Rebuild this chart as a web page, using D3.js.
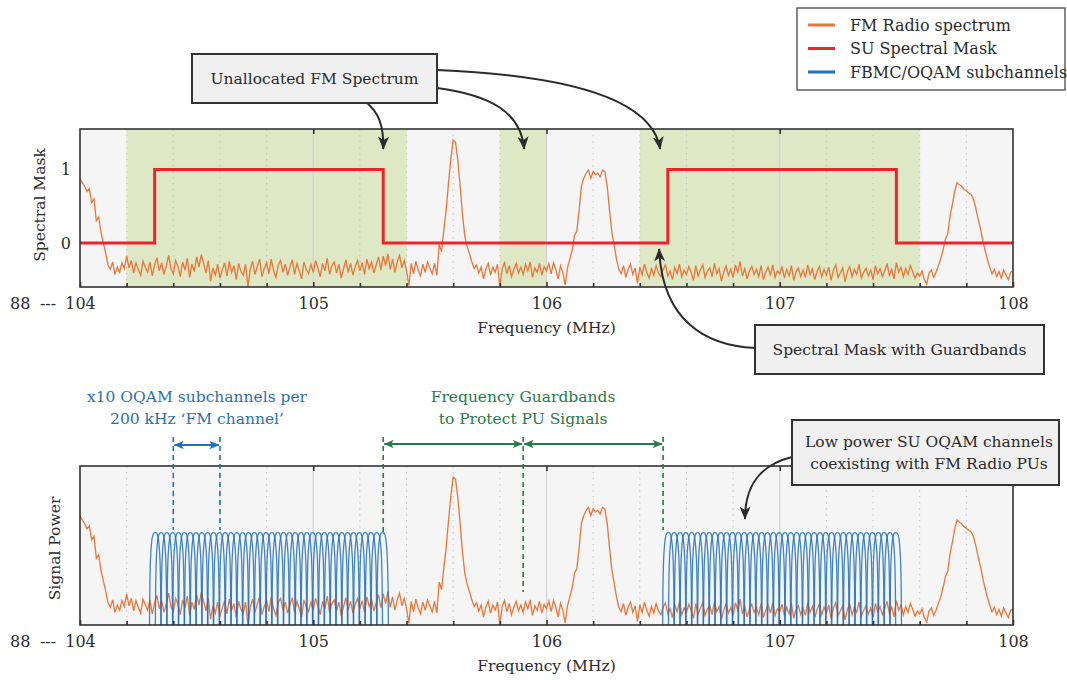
<!DOCTYPE html>
<html>
<head>
<meta charset="utf-8">
<script src="https://cdn.jsdelivr.net/npm/d3@7"></script>
<style>
  body { margin: 0; background: #fff; }
  svg { display: block; font-family: "DejaVu Serif", serif; }
</style>
</head>
<body>
<svg id="chart" width="1067" height="680"></svg>
<script>
// ---- Data -----------------------------------------------------------------
// Measured FM band power (normalised units), one sample every 10 kHz from 104 MHz.
const fmStartMHz = 104;
const fmStepMHz = 0.01;
const fmPower = [
  0.87, 0.82, 0.77, 0.70, 0.74, 0.55, 0.60, 0.30, 0.35, 0.14,
  0.00, -0.14, -0.30, -0.36, -0.26, -0.43, -0.33, -0.40, -0.27, -0.35,
  -0.18, -0.34, -0.24, -0.41, -0.27, -0.36, -0.44, -0.25, -0.33, -0.40,
  -0.26, -0.45, -0.30, -0.20, -0.38, -0.27, -0.43, -0.31, -0.17, -0.35,
  -0.42, -0.24, -0.32, -0.46, -0.26, -0.37, -0.21, -0.47, -0.29, -0.39,
  -0.19, -0.33, -0.16, -0.28, -0.41, -0.24, -0.52, -0.34, -0.44, -0.29,
  -0.48, -0.37, -0.27, -0.45, -0.25, -0.40, -0.31, -0.50, -0.28, -0.39,
  -0.44, -0.29, -0.60, -0.36, -0.25, -0.43, -0.32, -0.22, -0.46, -0.35,
  -0.27, -0.42, -0.22, -0.38, -0.47, -0.30, -0.24, -0.40, -0.29, -0.44,
  -0.33, -0.23, -0.43, -0.28, -0.38, -0.49, -0.26, -0.36, -0.42, -0.29,
  -0.40, -0.24, -0.34, -0.46, -0.28, -0.38, -0.21, -0.43, -0.31, -0.26,
  -0.41, -0.29, -0.48, -0.35, -0.23, -0.40, -0.28, -0.44, -0.32, -0.24,
  -0.38, -0.27, -0.43, -0.22, -0.35, -0.26, -0.41, -0.30, -0.19, -0.37,
  -0.18, -0.31, -0.15, -0.36, -0.22, -0.40, -0.26, -0.17, -0.34, -0.24,
  -0.38, -0.58, -0.28, -0.42, -0.25, -0.37, -0.45, -0.29, -0.40, -0.26,
  -0.34, -0.42, -0.28, -0.44, -0.02, -0.12, 0.18, 0.45, 0.82, 1.15,
  1.40, 1.37, 1.12, 0.76, 0.38, 0.09, -0.05, -0.15, -0.26, -0.35,
  -0.30, -0.41, -0.33, -0.49, -0.36, -0.28, -0.44, -0.33, -0.40, -0.29,
  -0.60, -0.35, -0.27, -0.42, -0.31, -0.46, -0.36, -0.28, -0.41, -0.33,
  -0.43, -0.29, -0.38, -0.26, -0.47, -0.34, -0.40, -0.28, -0.44, -0.32,
  -0.38, -0.28, -0.42, -0.27, -0.36, -0.49, -0.31, -0.40, -0.57, -0.34,
  -0.22, -0.10, 0.10, 0.16, 0.45, 0.78, 0.88, 0.95, 0.99, 0.88,
  0.97, 0.93, 0.95, 0.90, 0.99, 0.97, 0.78, 0.45, 0.15, -0.03,
  -0.22, -0.36, -0.42, -0.31, -0.47, -0.36, -0.29, -0.43, -0.34, -0.55,
  -0.33, -0.43, -0.29, -0.40, -0.48, -0.35, -0.44, -0.31, -0.41, -0.46,
  -0.36, -0.30, -0.45, -0.38, -0.50, -0.33, -0.42, -0.29, -0.46, -0.37,
  -0.43, -0.32, -0.40, -0.51, -0.31, -0.45, -0.37, -0.30, -0.47, -0.38,
  -0.34, -0.46, -0.28, -0.42, -0.35, -0.52, -0.40, -0.31, -0.44, -0.36,
  -0.47, -0.30, -0.40, -0.25, -0.45, -0.35, -0.49, -0.38, -0.32, -0.43,
  -0.36, -0.46, -0.31, -0.50, -0.40, -0.33, -0.44, -0.30, -0.47, -0.38,
  -0.42, -0.32, -0.48, -0.36, -0.45, -0.31, -0.51, -0.39, -0.34, -0.46,
  -0.37, -0.47, -0.30, -0.43, -0.35, -0.50, -0.39, -0.32, -0.46, -0.36,
  -0.44, -0.33, -0.51, -0.37, -0.30, -0.47, -0.41, -0.34, -0.53, -0.39,
  -0.32, -0.46, -0.36, -0.43, -0.29, -0.48, -0.40, -0.34, -0.45, -0.37,
  -0.50, -0.31, -0.42, -0.35, -0.46, -0.38, -0.28, -0.44, -0.36, -0.49,
  -0.27, -0.40, -0.33, -0.46, -0.35, -0.43, -0.31, -0.39, -0.48, -0.41,
  -0.45, -0.38, -0.50, -0.56, -0.41, -0.37, -0.47, -0.40, -0.31, -0.22,
  -0.10, 0.05, 0.12, 0.36, 0.52, 0.70, 0.82, 0.79, 0.77, 0.73,
  0.71, 0.68, 0.66, 0.60, 0.48, 0.33, 0.20, 0.04, -0.10, -0.22,
  -0.33, -0.42, -0.36, -0.46, -0.39, -0.48, -0.37, -0.44, -0.50, -0.40,
  -0.38
];

// Secondary-user spectral mask (step function, level holds until next edge).
const maskEdgesMHz = [104, 104.32, 105.30, 106.52, 107.50, 108];
const maskLevels   = [0, 1, 0, 1, 0, 0];

// Unallocated parts of the FM band.
const unallocatedBands = [[104.2, 105.4], [105.8, 106.0], [106.4, 107.6]];

// FBMC/OQAM subchannel centre frequencies (MHz).
const subchannelCentres = [
  104.3225, 104.3475, 104.3725, 104.3975, 104.4225, 104.4475, 104.4725, 104.4975,
  104.5225, 104.5475, 104.5725, 104.5975, 104.6225, 104.6475, 104.6725, 104.6975,
  104.7225, 104.7475, 104.7725, 104.7975, 104.8225, 104.8475, 104.8725, 104.8975,
  104.9225, 104.9475, 104.9725, 104.9975, 105.0225, 105.0475, 105.0725, 105.0975,
  105.1225, 105.1475, 105.1725, 105.1975, 105.2225, 105.2475, 105.2725, 105.2975,
  106.5225, 106.5475, 106.5725, 106.5975, 106.6225, 106.6475, 106.6725, 106.6975,
  106.7225, 106.7475, 106.7725, 106.7975, 106.8225, 106.8475, 106.8725, 106.8975,
  106.9225, 106.9475, 106.9725, 106.9975, 107.0225, 107.0475, 107.0725, 107.0975,
  107.1225, 107.1475, 107.1725, 107.1975, 107.2225, 107.2475, 107.2725, 107.2975,
  107.3225, 107.3475, 107.3725, 107.3975, 107.4225, 107.4475, 107.4725, 107.4975
];
const subchannelSpacingMHz = 0.025;
// Prototype filter response: offset in subchannel spacings -> power level.
const protoOffsets = [-1.0, -0.93, -0.85, -0.75, -0.65, -0.5, -0.25, 0,
                       0.25, 0.5, 0.65, 0.75, 0.85, 0.93, 1.0];
const protoLevels  = [-0.80, -0.12, 0.20, 0.38, 0.49, 0.585, 0.64, 0.65,
                       0.64, 0.585, 0.49, 0.38, 0.20, -0.12, -0.80];

// Axis ticks.
const majorTicks = [104, 105, 106, 107, 108];
const minorTicks = [104.2, 104.4, 104.6, 104.8, 105.2, 105.4, 105.6, 105.8,
                    106.2, 106.4, 106.6, 106.8, 107.2, 107.4, 107.6, 107.8];
const majorGrid  = [105, 106, 107];
const maskTicks  = [0, 1];

// ---- Styling ----------------------------------------------------------------
const C = {
  orange: "#e8773a",
  red: "#f0232d",
  blue: "#1f70bf",
  green: "#2a7a48",
  blueText: "#2e6fae",
  band: "#dee8c5",
  plotBg: "#f5f5f5",
  ink: "#2b2b2b",
  frame: "#333"
};

const svg = d3.select("#chart");
const x = d3.scaleLinear().domain([104, 108]).range([80, 1013]);
const panels = [
  { id: "mask", top: 129, bottom: 287 },
  { id: "power", top: 466, bottom: 625 }
];

// Arrow heads
const defs = svg.append("defs");
function marker(id, color, size) {
  defs.append("marker")
    .attr("id", id)
    .attr("viewBox", "0 0 10 10")
    .attr("refX", 9.5).attr("refY", 5)
    .attr("markerUnits", "userSpaceOnUse")
    .attr("markerWidth", size).attr("markerHeight", size)
    .attr("orient", "auto-start-reverse")
    .append("path")
    .attr("d", "M0,0.8 L10,5 L0,9.2 L2.6,5 Z")
    .attr("fill", color);
}
marker("arrowInk", C.ink, 13);
marker("arrowBlue", C.blue, 10);
marker("arrowGreen", C.green, 10);

const fmLine = d3.line()
  .x((d, i) => x(fmStartMHz + i * fmStepMHz));

function drawPanel(p) {
  const y = d3.scaleLinear().domain([-0.6, 1.55]).range([p.bottom, p.top]);
  const g = svg.append("g");
  const clipId = "clip-" + p.id;
  defs.append("clipPath").attr("id", clipId)
    .append("rect")
    .attr("x", x.range()[0]).attr("y", p.top)
    .attr("width", x.range()[1] - x.range()[0]).attr("height", p.bottom - p.top);

  g.append("rect")
    .attr("x", x.range()[0]).attr("y", p.top)
    .attr("width", x.range()[1] - x.range()[0]).attr("height", p.bottom - p.top)
    .attr("fill", C.plotBg);

  if (p.id === "mask") {
    g.selectAll("rect.band").data(unallocatedBands).join("rect")
      .attr("class", "band")
      .attr("x", d => x(d[0])).attr("y", p.top)
      .attr("width", d => x(d[1]) - x(d[0])).attr("height", p.bottom - p.top)
      .attr("fill", C.band);
  }

  // grid
  g.selectAll("line.minor").data(minorTicks).join("line")
    .attr("x1", d => x(d)).attr("x2", d => x(d))
    .attr("y1", p.top).attr("y2", p.bottom)
    .attr("stroke", "#c4c4c4").attr("stroke-width", 1)
    .attr("stroke-dasharray", "1.5,4.5");
  g.selectAll("line.major").data(majorGrid).join("line")
    .attr("x1", d => x(d)).attr("x2", d => x(d))
    .attr("y1", p.top).attr("y2", p.bottom)
    .attr("stroke", "#d2d2d2").attr("stroke-width", 1.2);

  const plot = g.append("g").attr("clip-path", `url(#${clipId})`);
  fmLine.y(d => y(d));

  plot.append("path").datum(fmPower)
    .attr("d", fmLine).attr("fill", "none")
    .attr("stroke", C.orange).attr("stroke-width", 1.3);

  if (p.id === "mask") {
    const maskLine = d3.line()
      .x((d, i) => x(maskEdgesMHz[i])).y(d => y(d))
      .curve(d3.curveStepAfter);
    plot.append("path").datum(maskLevels)
      .attr("d", maskLine).attr("fill", "none")
      .attr("stroke", C.red).attr("stroke-width", 3);
  } else {
    const chLine = d3.line()
      .x(d => x(d[0])).y(d => y(d[1]))
      .curve(d3.curveMonotoneX);
    plot.append("g").selectAll("path").data(subchannelCentres).join("path")
      .attr("d", c => chLine(protoOffsets.map((o, k) => [c + o * subchannelSpacingMHz, protoLevels[k]])))
      .attr("fill", "none")
      .attr("stroke", C.blue).attr("stroke-width", 1.3)
      .attr("stroke-opacity", 0.85);
  }

  // frame
  g.append("rect")
    .attr("x", x.range()[0]).attr("y", p.top)
    .attr("width", x.range()[1] - x.range()[0]).attr("height", p.bottom - p.top)
    .attr("fill", "none").attr("stroke", C.frame).attr("stroke-width", 1.6);

  // axes (ticks point inward)
  const axB = g.append("g").attr("transform", `translate(0,${p.bottom})`)
    .call(d3.axisBottom(x).tickValues(majorTicks).tickSizeInner(-5).tickSizeOuter(0)
      .tickPadding(11).tickFormat(d3.format("d")));
  const axBm = g.append("g").attr("transform", `translate(0,${p.bottom})`)
    .call(d3.axisBottom(x).tickValues(minorTicks).tickSizeInner(-4).tickSizeOuter(0).tickFormat(""));
  const axT = g.append("g").attr("transform", `translate(0,${p.top})`)
    .call(d3.axisTop(x).tickValues(majorGrid).tickSizeInner(-5).tickSizeOuter(0).tickFormat(""));
  [axB, axBm, axT].forEach(a => {
    a.select(".domain").remove();
    a.selectAll(".tick line").attr("stroke", C.frame).attr("stroke-width", 1.6);
    a.selectAll("text").attr("font-family", "DejaVu Serif").attr("font-size", 16).attr("fill", C.ink);
  });

  if (p.id === "mask") {
    const axL = g.append("g").attr("transform", `translate(${x.range()[0]},0)`)
      .call(d3.axisLeft(y).tickValues(maskTicks).tickSize(0).tickPadding(9).tickFormat(d3.format("d")));
    axL.select(".domain").remove();
    axL.selectAll("text").attr("font-family", "DejaVu Serif").attr("font-size", 16).attr("fill", C.ink);
  }

  // broken-axis marker left of first tick
  const labY = p.bottom + 11;
  g.append("text").attr("x", 10).attr("y", labY).attr("dy", "0.71em")
    .attr("font-size", 16).attr("fill", C.ink).text("88");
  g.append("text").attr("x", 48).attr("y", labY).attr("dy", "0.71em")
    .attr("text-anchor", "middle").attr("font-size", 16).attr("fill", C.ink).text("---");

  g.append("text")
    .attr("x", (x.range()[0] + x.range()[1]) / 2).attr("y", p.bottom + 41)
    .attr("dy", "0.35em").attr("text-anchor", "middle")
    .attr("font-size", 15.5).attr("fill", C.ink).text("Frequency (MHz)");

  const yl = p.id === "mask" ? { x: 40, t: "Spectral Mask" } : { x: 55, t: "Signal Power" };
  g.append("text")
    .attr("transform", `translate(${yl.x},${(p.top + p.bottom) / 2 + (p.id === "mask" ? -3 : 3)}) rotate(-90)`)
    .attr("dy", "0.35em").attr("text-anchor", "middle")
    .attr("font-size", 15.5).attr("fill", C.ink).text(yl.t);

  return y;
}

const yMask = drawPanel(panels[0]);
const yPower = drawPanel(panels[1]);

// ---- Legend -----------------------------------------------------------------
const legendItems = [
  { label: "FM Radio spectrum", color: C.orange },
  { label: "SU Spectral Mask", color: C.red },
  { label: "FBMC/OQAM subchannels", color: C.blue }
];
const lg = svg.append("g");
lg.append("rect").attr("x", 797).attr("y", 8).attr("width", 268).attr("height", 82)
  .attr("fill", "#fff").attr("stroke", "#3a3a3a").attr("stroke-width", 1.2);
legendItems.forEach((it, i) => {
  const yy = 25 + i * 23.5;
  lg.append("line").attr("x1", 808).attr("x2", 835).attr("y1", yy).attr("y2", yy)
    .attr("stroke", it.color).attr("stroke-width", 3);
  lg.append("text").attr("x", 850).attr("y", yy).attr("dy", "0.35em")
    .attr("font-size", 16).attr("fill", C.ink).text(it.label);
});

// ---- Callouts -----------------------------------------------------------------
function callout(x0, y0, x1, y1, lines, cx) {
  svg.append("rect").attr("x", x0).attr("y", y0).attr("width", x1 - x0).attr("height", y1 - y0)
    .attr("fill", "#f0f0f0").attr("stroke", C.frame).attr("stroke-width", 2);
  const midY = (y0 + y1) / 2;
  const lh = 22;
  lines.forEach((t, i) => {
    svg.append("text").attr("x", cx != null ? cx : (x0 + x1) / 2)
      .attr("y", midY + (i - (lines.length - 1) / 2) * lh)
      .attr("dy", "0.35em").attr("text-anchor", "middle")
      .attr("font-size", 15.5).attr("fill", C.ink).text(t);
  });
}
function curveArrow(d) {
  svg.append("path").attr("d", d).attr("fill", "none")
    .attr("stroke", C.ink).attr("stroke-width", 2)
    .attr("marker-end", "url(#arrowInk)");
}

curveArrow(`M367,103 C378,112 384,125 ${x(105.3)},149`);
curveArrow(`M437,88 C490,95 521,112 ${x(105.9) + 1},149`);
curveArrow(`M437,70 C560,75 652,96 ${x(106.5) - 3},149`);
callout(192, 54, 437, 103, ["Unallocated FM Spectrum"]);

curveArrow(`M755,348 C705,346 662,320 ${x(106.5) - 4},${yMask(0) + 6}`);
callout(755, 325, 1044, 374, ["Spectral Mask with Guardbands"]);

curveArrow(`M792,457 C760,465 745,485 745,519`);
callout(792, 420, 1059, 485, ["Low power SU OQAM channels", "coexisting with FM Radio PUs"], 929);

// ---- Bandwidth annotations ----------------------------------------------------
const ann = svg.append("g");
function vdash(f, y0, y1, color) {
  ann.append("line").attr("x1", x(f)).attr("x2", x(f)).attr("y1", y0).attr("y2", y1)
    .attr("stroke", color).attr("stroke-width", 1.6).attr("stroke-dasharray", "5,4");
}
function span(f0, f1, yy, color, mk) {
  ann.append("line").attr("x1", x(f0) + 1).attr("x2", x(f1) - 1).attr("y1", yy).attr("y2", yy)
    .attr("stroke", color).attr("stroke-width", 1.8)
    .attr("marker-start", `url(#${mk})`).attr("marker-end", `url(#${mk})`);
}

// one 200 kHz FM channel
vdash(104.4, 437, 530, C.blue);
vdash(104.6, 437, 530, C.blue);
span(104.4, 104.6, 445, C.blue, "arrowBlue");
ann.append("text").attr("x", 197).attr("y", 397).attr("dy", "0.35em").attr("text-anchor", "middle")
  .attr("font-size", 15.5).attr("fill", C.blueText).text("x10 OQAM subchannels per");
ann.append("text").attr("x", 197).attr("y", 419).attr("dy", "0.35em").attr("text-anchor", "middle")
  .attr("font-size", 15.5).attr("fill", C.blueText).text("200 kHz \u2018FM channel\u2019");

// guardbands around the primary users
vdash(105.3, 437, 532, C.green);
vdash(105.9, 437, 592, C.green);
vdash(106.5, 437, 530, C.green);
span(105.3, 105.9, 444, C.green, "arrowGreen");
span(105.9, 106.5, 444, C.green, "arrowGreen");
ann.append("text").attr("x", 523).attr("y", 397).attr("dy", "0.35em").attr("text-anchor", "middle")
  .attr("font-size", 15.5).attr("fill", C.green).text("Frequency Guardbands");
ann.append("text").attr("x", 523).attr("y", 419).attr("dy", "0.35em").attr("text-anchor", "middle")
  .attr("font-size", 15.5).attr("fill", C.green).text("to Protect PU Signals");
</script>
</body>
</html>
